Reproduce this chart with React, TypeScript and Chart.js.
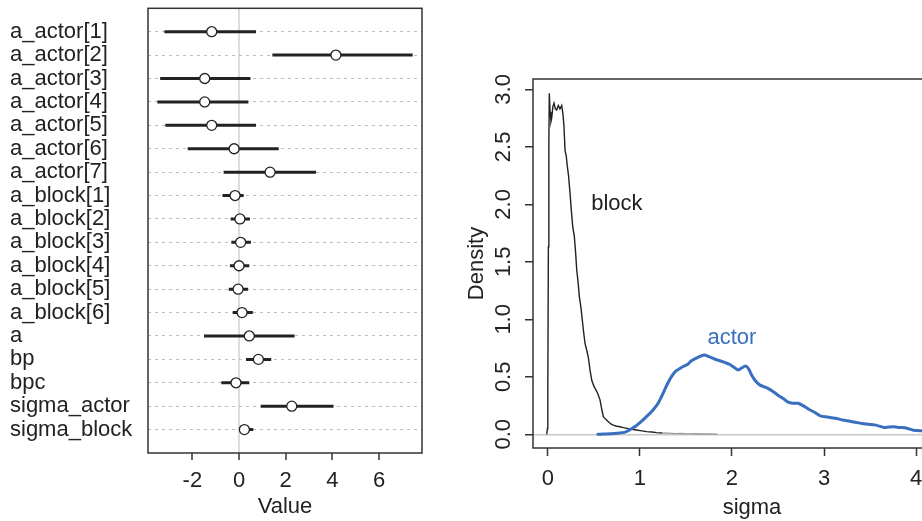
import React, { useEffect, useRef } from "react";
import { Chart, registerables } from "chart.js";

Chart.register(...registerables);

// ---------- Left panel: parameter summary ----------
const paramLabels = [
  "a_actor[1]", "a_actor[2]", "a_actor[3]", "a_actor[4]", "a_actor[5]", "a_actor[6]", "a_actor[7]",
  "a_block[1]", "a_block[2]", "a_block[3]", "a_block[4]", "a_block[5]", "a_block[6]",
  "a", "bp", "bpc", "sigma_actor", "sigma_block",
];
const paramMean = [-1.17, 4.15, -1.47, -1.47, -1.17, -0.21, 1.33, -0.17, 0.04, 0.07, 0.0, -0.04, 0.13, 0.44, 0.83, -0.13, 2.26, 0.23];
const paramLow = [-3.2, 1.43, -3.38, -3.5, -3.16, -2.2, -0.66, -0.71, -0.36, -0.33, -0.39, -0.44, -0.27, -1.5, 0.3, -0.76, 0.93, 0.01];
const paramHigh = [0.73, 7.44, 0.49, 0.4, 0.73, 1.7, 3.3, 0.2, 0.47, 0.51, 0.44, 0.39, 0.59, 2.38, 1.38, 0.44, 4.05, 0.61];
const valueTicks = [-2, 0, 2, 4, 6];

// ---------- Right panel: posterior densities ----------
const blockSigma = [-0.012, -0.004, 0.0, 0.006, 0.011, 0.016, 0.025, 0.034, 0.042, 0.055, 0.067, 0.082, 0.096, 0.114, 0.132, 0.151, 0.165, 0.176, 0.187, 0.2, 0.212, 0.225, 0.241, 0.255, 0.27, 0.288, 0.3, 0.314, 0.328, 0.342, 0.36, 0.375, 0.39, 0.404, 0.42, 0.44, 0.458, 0.477, 0.495, 0.513, 0.54, 0.567, 0.585, 0.603, 0.63, 0.657, 0.685, 0.711, 0.75, 0.784, 0.82, 0.857, 0.91, 0.965, 1.02, 1.074, 1.13, 1.18, 1.24, 1.31, 1.38, 1.45, 1.52, 1.6, 1.68, 1.76, 1.845];
const blockDensity = [0, 0.05, 0.4, 1.63, 2.5, 2.965, 2.8, 2.72, 2.75, 2.85, 2.88, 2.83, 2.82, 2.86, 2.83, 2.86, 2.78, 2.67, 2.47, 2.42, 2.33, 2.25, 2.1, 1.95, 1.81, 1.72, 1.6, 1.43, 1.33, 1.2, 1.1, 0.99, 0.88, 0.79, 0.74, 0.67, 0.56, 0.47, 0.43, 0.4, 0.36, 0.3, 0.22, 0.153, 0.13, 0.11, 0.09, 0.08, 0.07, 0.066, 0.058, 0.052, 0.044, 0.037, 0.03, 0.023, 0.02, 0.015, 0.012, 0.01, 0.006, 0.007, 0.004, 0.005, 0.003, 0.004, 0.002];
const actorSigma = [0.543, 0.6, 0.687, 0.76, 0.832, 0.87, 0.904, 0.96, 1.013, 1.08, 1.14, 1.19, 1.23, 1.3, 1.35, 1.39, 1.43, 1.47, 1.52, 1.56, 1.63, 1.7, 1.75, 1.81, 1.87, 1.92, 1.97, 2.01, 2.07, 2.1, 2.15, 2.18, 2.21, 2.25, 2.3, 2.39, 2.45, 2.5, 2.56, 2.61, 2.66, 2.72, 2.78, 2.83, 2.9, 2.96, 3.04, 3.12, 3.2, 3.27, 3.34, 3.41, 3.48, 3.56, 3.65, 3.7, 3.76, 3.82, 3.88, 3.97, 4.07, 4.2, 4.35, 4.5, 4.7];
const actorDensity = [0, 0.002, 0.005, 0.01, 0.017, 0.03, 0.046, 0.075, 0.11, 0.16, 0.21, 0.26, 0.32, 0.44, 0.51, 0.55, 0.57, 0.59, 0.61, 0.64, 0.67, 0.69, 0.675, 0.655, 0.64, 0.625, 0.61, 0.59, 0.56, 0.575, 0.595, 0.57, 0.52, 0.47, 0.43, 0.4, 0.37, 0.34, 0.31, 0.28, 0.27, 0.27, 0.245, 0.22, 0.19, 0.16, 0.15, 0.14, 0.125, 0.115, 0.105, 0.095, 0.088, 0.08, 0.06, 0.063, 0.065, 0.06, 0.057, 0.036, 0.03, 0.026, 0.022, 0.018, 0.012];
const sigmaTicks = [0, 1, 2, 3, 4];
const densityTicks = [0, 0.5, 1, 1.5, 2, 2.5, 3];
const curveNames = ["block", "actor"];
const curveLabelX = [0.75, 2.0];
const curveLabelY = [2.0, 0.84];

const FONT = "'Liberation Sans', Arial, Helvetica, sans-serif";
const TEXT = "#222222";
const AXIS = "#333333";
const BLUE = "#3a6fc0";

const framePlugin = {
  id: "frame",
  afterDraw(chart: any) {
    const { ctx, chartArea: a } = chart;
    ctx.save();
    ctx.strokeStyle = AXIS;
    ctx.lineWidth = 1.5;
    ctx.strokeRect(a.left, a.top, a.right - a.left, a.bottom - a.top);
    ctx.restore();
  },
};

const densityTextPlugin = {
  id: "densityText",
  afterDraw(chart: any) {
    const { ctx } = chart;
    const xs = chart.scales.x;
    const ys = chart.scales.y;
    ctx.save();
    ctx.font = `22px ${FONT}`;
    ctx.fillStyle = TEXT;
    ctx.textAlign = "center";
    ctx.textBaseline = "middle";
    densityTicks.forEach((t) => {
      const py = ys.getPixelForValue(t);
      ctx.save();
      ctx.translate(42.5, py);
      ctx.rotate(-Math.PI / 2);
      ctx.fillText(t.toFixed(1), 0, 0);
      ctx.restore();
    });
    curveNames.forEach((name, i) => {
      ctx.fillStyle = i === 1 ? BLUE : TEXT;
      ctx.fillText(name, xs.getPixelForValue(curveLabelX[i]), ys.getPixelForValue(curveLabelY[i]));
    });
    ctx.restore();
  },
};

const noPadV = (s: any) => {
  s.paddingTop = 0;
  s.paddingBottom = 0;
};
const noPadH = (s: any) => {
  s.paddingLeft = 0;
  s.paddingRight = 0;
};

function LeftChart() {
  const ref = useRef<HTMLCanvasElement | null>(null);
  useEffect(() => {
    if (!ref.current) return;
    const intervalSets = paramLabels.map((_, i) => ({
      data: [
        { x: paramLow[i], y: i + 1 },
        { x: paramHigh[i], y: i + 1 },
      ],
      showLine: true,
      borderColor: TEXT,
      borderWidth: 3,
      pointRadius: 0,
      borderCapStyle: "butt",
    }));
    const chart = new Chart(ref.current, {
      type: "scatter",
      data: {
        datasets: [
          {
            data: paramMean.map((m, i) => ({ x: m, y: i + 1 })),
            showLine: false,
            pointRadius: 5,
            pointBorderWidth: 1.3,
            pointBorderColor: TEXT,
            pointBackgroundColor: "#ffffff",
          } as any,
          ...(intervalSets as any[]),
        ],
      },
      options: {
        animation: false,
        responsive: false,
        events: [],
        layout: { padding: { left: 10, top: 8.3, right: 39, bottom: 0 } },
        plugins: { legend: { display: false }, tooltip: { enabled: false } },
        scales: {
          x: {
            type: "linear",
            min: -3.9,
            max: 7.84,
            afterBuildTicks: (s: any) => {
              s.ticks = valueTicks.map((v) => ({ value: v }));
            },
            afterFit: (s: any) => {
              s.height = 68;
              noPadH(s);
            },
            border: { display: false },
            grid: {
              drawOnChartArea: true,
              color: (c: any) => (c.tick && c.tick.value === 0 ? "#dcdcdc" : "rgba(0,0,0,0)"),
              lineWidth: 2,
              tickColor: AXIS,
              tickWidth: 1.5,
              tickLength: 7,
            },
            ticks: {
              color: TEXT,
              font: { size: 22, family: FONT },
              padding: 7.5,
              maxRotation: 0,
              autoSkip: false,
              callback: (v: any) => String(v),
            },
            title: {
              display: true,
              text: "Value",
              color: TEXT,
              font: { size: 22, family: FONT },
              padding: { top: 0, bottom: 1 },
            },
          },
          y: {
            type: "linear",
            min: 0,
            max: 19,
            reverse: true,
            afterBuildTicks: (s: any) => {
              s.ticks = paramLabels.map((_, i) => ({ value: i + 1 }));
            },
            afterFit: (s: any) => {
              s.width = 138;
              noPadV(s);
            },
            border: { display: false, dash: [3, 4] },
            grid: {
              drawTicks: false,
              color: "#bdbdbd",
              lineWidth: 1,
            },
            ticks: {
              crossAlign: "far",
              autoSkip: false,
              color: TEXT,
              font: { size: 22, family: FONT },
              padding: 0,
              callback: (v: any) => paramLabels[Number(v) - 1] ?? "",
            },
          },
        },
      },
      plugins: [framePlugin],
    } as any);
    return () => chart.destroy();
  }, []);
  return (
    <canvas
      ref={ref}
      width={461}
      height={521}
      style={{ position: "absolute", left: 0, top: 0, width: 461, height: 521 }}
    />
  );
}

function RightChart() {
  const ref = useRef<HTMLCanvasElement | null>(null);
  useEffect(() => {
    if (!ref.current) return;
    const chart = new Chart(ref.current, {
      type: "scatter",
      data: {
        datasets: [
          {
            data: actorSigma.map((x, i) => ({ x, y: actorDensity[i] })),
            showLine: true,
            borderColor: BLUE,
            borderWidth: 3,
            pointRadius: 0,
            tension: 0.3,
            borderCapStyle: "round",
            borderJoinStyle: "round",
          } as any,
          {
            data: blockSigma.map((x, i) => ({ x, y: blockDensity[i] })),
            showLine: true,
            borderColor: TEXT,
            borderWidth: 1.4,
            pointRadius: 0,
            tension: 0,
            segment: {
              borderColor: (c: any) => (c.p0.parsed.x > 1.2 ? "#9a9a9a" : undefined),
            },
          } as any,
        ],
      },
      options: {
        animation: false,
        responsive: false,
        events: [],
        layout: { padding: { left: 0, top: 79, right: 10, bottom: 0 } },
        plugins: { legend: { display: false }, tooltip: { enabled: false } },
        scales: {
          x: {
            type: "linear",
            min: -0.161,
            max: 4.596,
            afterBuildTicks: (s: any) => {
              s.ticks = sigmaTicks.map((v) => ({ value: v }));
            },
            afterFit: (s: any) => {
              s.height = 73;
              noPadH(s);
            },
            border: { display: false },
            grid: {
              drawOnChartArea: false,
              tickColor: AXIS,
              tickWidth: 1.5,
              tickLength: 8,
            },
            ticks: {
              color: TEXT,
              font: { size: 22, family: FONT },
              padding: 9.8,
              maxRotation: 0,
              autoSkip: false,
              callback: (v: any) => String(v),
            },
            title: {
              display: true,
              text: "sigma",
              color: TEXT,
              font: { size: 22, family: FONT },
              padding: { top: 0, bottom: 0 },
            },
          },
          y: {
            type: "linear",
            min: -0.119,
            max: 3.09,
            afterBuildTicks: (s: any) => {
              s.ticks = densityTicks.map((v) => ({ value: v }));
            },
            afterFit: (s: any) => {
              s.width = 72;
              noPadV(s);
            },
            border: { display: false },
            grid: {
              drawOnChartArea: true,
              color: (c: any) => (c.tick && c.tick.value === 0 ? "#c8c8c8" : "rgba(0,0,0,0)"),
              lineWidth: 1.5,
              tickColor: AXIS,
              tickWidth: 1.5,
              tickLength: 8,
            },
            ticks: { display: false },
            title: {
              display: true,
              text: "Density",
              color: TEXT,
              font: { size: 22, family: FONT },
              padding: { top: 3, bottom: 0 },
            },
          },
        },
      },
      plugins: [framePlugin, densityTextPlugin],
    } as any);
    return () => chart.destroy();
  }, []);
  return (
    <canvas
      ref={ref}
      width={520}
      height={521}
      style={{ position: "absolute", left: 461, top: 0, width: 520, height: 521 }}
    />
  );
}

export default function App() {
  return (
    <div
      style={{
        position: "fixed",
        left: 0,
        top: 0,
        width: 922,
        height: 521,
        overflow: "hidden",
        background: "#ffffff",
      }}
    >
      <LeftChart />
      <RightChart />
    </div>
  );
}
